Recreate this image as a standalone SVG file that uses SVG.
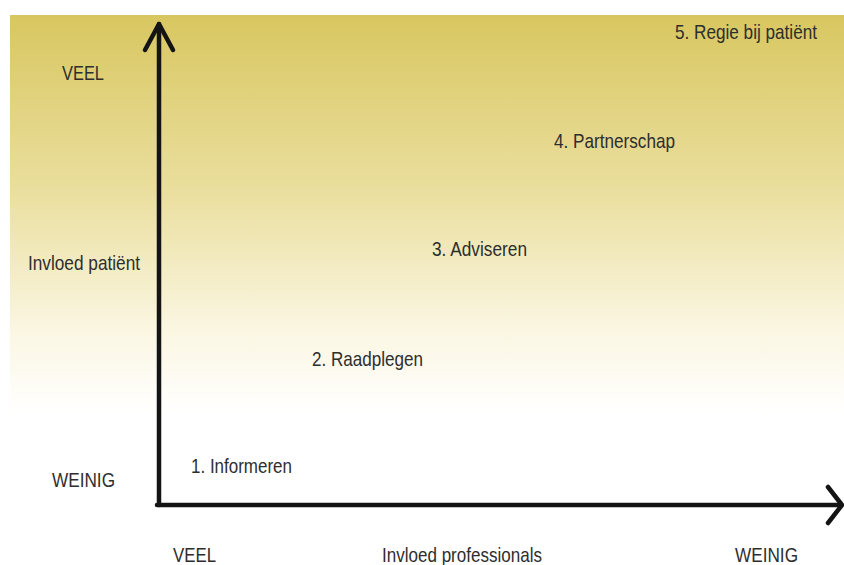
<svg xmlns="http://www.w3.org/2000/svg" width="844" height="565" viewBox="0 0 844 565">
  <defs>
    <linearGradient id="bg" x1="0" y1="0" x2="0" y2="1">
      <stop offset="0" stop-color="#d8c760"/>
      <stop offset="0.45" stop-color="#ebdfa0"/>
      <stop offset="0.8" stop-color="#fbf7e4"/>
      <stop offset="1" stop-color="#ffffff"/>
    </linearGradient>
    <style>
      text { font-family: "Liberation Sans", Arial, sans-serif; font-size: 21px; fill: #2e2e2e; }
      .axis { stroke: #141414; stroke-width: 4.5; fill: none; stroke-linecap: round; stroke-linejoin: round; }
    </style>
  </defs>

  <rect width="844" height="565" fill="#ffffff"/>
  <rect x="10" y="15" width="834" height="400" fill="url(#bg)"/>

  <!-- axes -->
  <g id="connectors">
    <path class="axis" d="M159 505 V24"/>
    <path class="axis" d="M145 50 L159 24 L173 50"/>
    <path class="axis" d="M157 505 H840"/>
    <path class="axis" d="M828 487 L842 505 L828 523"/>
  </g>

  <!-- vertical axis labels -->
  <g id="y-labels">
    <text x="62" y="80" textLength="42" lengthAdjust="spacingAndGlyphs">VEEL</text>
    <text x="28" y="270" textLength="112" lengthAdjust="spacingAndGlyphs">Invloed patiënt</text>
    <text x="52" y="487" textLength="63" lengthAdjust="spacingAndGlyphs">WEINIG</text>
  </g>

  <!-- participation levels -->
  <g id="level-1"><text x="191" y="473" textLength="101" lengthAdjust="spacingAndGlyphs">1. Informeren</text></g>
  <g id="level-2"><text x="312" y="366" textLength="111" lengthAdjust="spacingAndGlyphs">2. Raadplegen</text></g>
  <g id="level-3"><text x="432" y="256" textLength="95" lengthAdjust="spacingAndGlyphs">3. Adviseren</text></g>
  <g id="level-4"><text x="554" y="148" textLength="121" lengthAdjust="spacingAndGlyphs">4. Partnerschap</text></g>
  <g id="level-5"><text x="675" y="39" textLength="142" lengthAdjust="spacingAndGlyphs">5. Regie bij patiënt</text></g>

  <!-- horizontal axis labels -->
  <g id="x-labels">
    <text x="173" y="562" textLength="43" lengthAdjust="spacingAndGlyphs">VEEL</text>
    <text x="382" y="562" textLength="160" lengthAdjust="spacingAndGlyphs">Invloed professionals</text>
    <text x="735" y="562" textLength="63" lengthAdjust="spacingAndGlyphs">WEINIG</text>
  </g>
</svg>
